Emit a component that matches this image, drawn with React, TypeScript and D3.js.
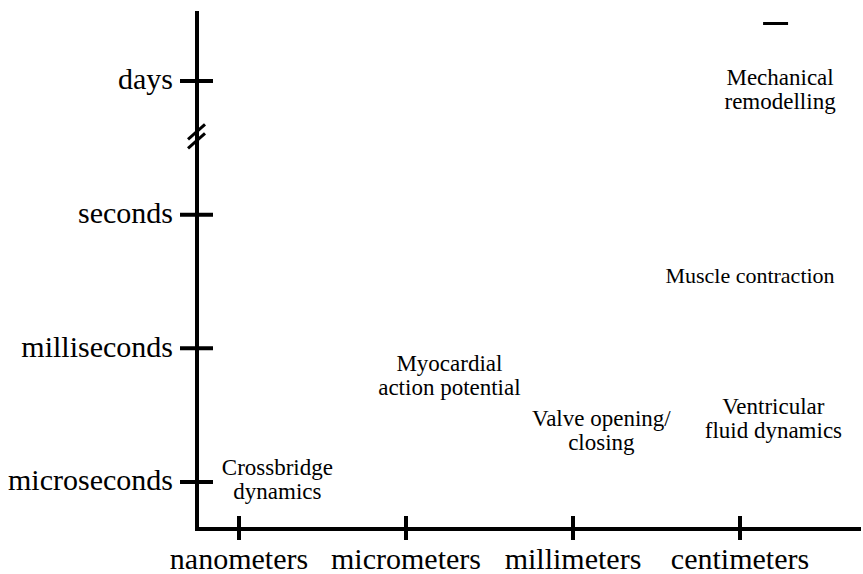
import * as d3 from "d3";

const W = 863;
const H = 574;

// spatial scale (x) and time scale (y) categories
const lengthScales = ["nanometers", "micrometers", "millimeters", "centimeters"];
const timeScales = ["microseconds", "milliseconds", "seconds", "days"];
const timeIndex = [0, 1, 2, 3];

// processes placed on the scale map: x = spatial index, y = time index
const procLines = [
  ["Crossbridge", "dynamics"],
  ["Myocardial", "action potential"],
  ["Valve opening/", "closing"],
  ["Ventricular", "fluid dynamics"],
  ["Muscle contraction"],
  ["Mechanical", "remodelling"],
];
const procX = [0.23, 1.26, 2.17, 3.2, 3.06, 3.24];
const procY = [0.02, 0.8, 0.39, 0.48, 1.55, 2.94];

// small dash in the top right corner
const dashX = 3.21;
const dashY = 3.43;

// break on the time axis between seconds and days
const breakAt = 2.6;

const font = "Liberation Serif, Times New Roman, serif";

export default function App() {
  const origin = { x: 197, y: 529 };
  const x = d3.scalePoint<string>().domain(lengthScales).range([239, 740]);
  const xi = d3.scaleLinear().domain([0, 3]).range([239, 740]);
  const y = d3.scaleLinear().domain([0, 3]).range([482, 81]);

  const lineH = 24;

  return (
    <svg
      width={W}
      height={H}
      style={{ position: "absolute", left: 0, top: 0, background: "#fff", fontFamily: font }}
    >
      {/* axes */}
      <line x1={origin.x} y1={11} x2={origin.x} y2={origin.y + 2} stroke="#000" strokeWidth={4} />
      <line x1={origin.x - 2} y1={origin.y} x2={861} y2={origin.y} stroke="#000" strokeWidth={4} />

      {/* y ticks */}
      {timeScales.map((t, i) => (
        <g key={t}>
          <line
            x1={origin.x - 17}
            x2={origin.x + 16}
            y1={y(timeIndex[i])}
            y2={y(timeIndex[i])}
            stroke="#000"
            strokeWidth={4}
          />
          <text
            x={origin.x - 24}
            y={y(timeIndex[i])}
            dy="0.28em"
            textAnchor="end"
            style={{ fontFamily: font, fontSize: 30 }}
          >
            {t}
          </text>
        </g>
      ))}

      {/* axis break */}
      {[0, 9].map((off) => (
        <line
          key={off}
          x1={origin.x - 9}
          y1={y(breakAt) + 5 + off}
          x2={origin.x + 8}
          y2={y(breakAt) - 10 + off}
          stroke="#000"
          strokeWidth={3}
        />
      ))}

      {/* x ticks */}
      {lengthScales.map((l) => (
        <g key={l}>
          <line
            x1={x(l)}
            x2={x(l)}
            y1={origin.y - 13}
            y2={origin.y + 11}
            stroke="#000"
            strokeWidth={4}
          />
          <text
            x={x(l)}
            y={569}
            textAnchor="middle"
            style={{ fontFamily: font, fontSize: 30 }}
          >
            {l}
          </text>
        </g>
      ))}

      {/* process labels */}
      {procLines.map((lines, i) => (
        <text
          key={i}
          x={xi(procX[i])}
          y={y(procY[i]) - ((lines.length - 1) * lineH) / 2}
          textAnchor="middle"
          style={{ fontFamily: font, fontSize: lines.length === 1 ? 22 : 23 }}
        >
          {lines.map((s, j) => (
            <tspan key={j} x={xi(procX[i])} dy={j === 0 ? "0.35em" : lineH}>
              {s}
            </tspan>
          ))}
        </text>
      ))}

      <line
        x1={xi(dashX) - 12}
        x2={xi(dashX) + 13}
        y1={y(dashY)}
        y2={y(dashY)}
        stroke="#000"
        strokeWidth={3}
      />
    </svg>
  );
}
